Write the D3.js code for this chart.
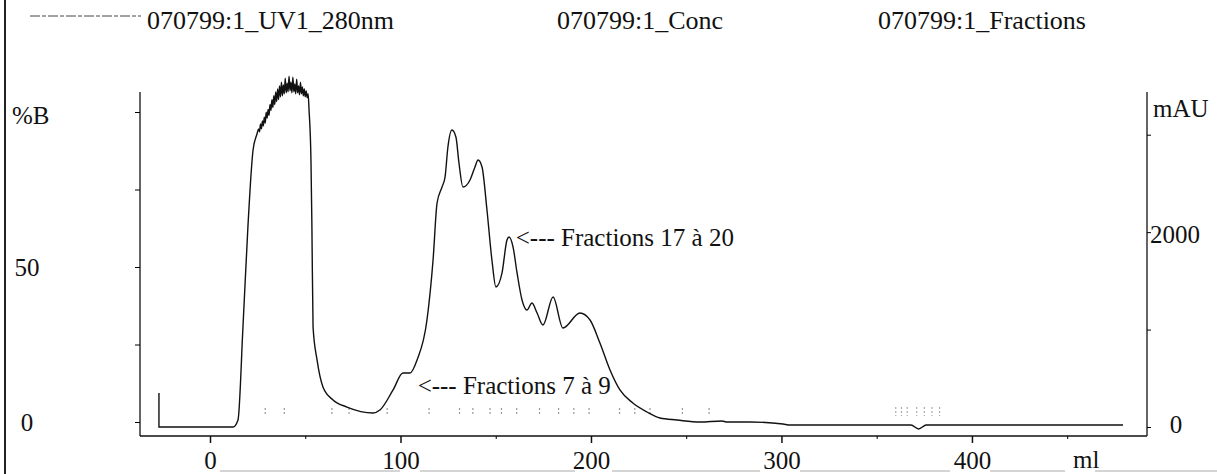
<!DOCTYPE html>
<html><head><meta charset="utf-8">
<script src="https://cdn.jsdelivr.net/npm/d3@7"></script>
<style>body{margin:0;background:#fff}svg{display:block}text{font-family:"Liberation Serif","Times New Roman",serif;fill:#111}</style>
</head><body>
<svg id="c" width="1217" height="474"></svg>
<script>
// ---- data ----
const seriesNames = ["070799:1_UV1_280nm", "070799:1_Conc", "070799:1_Fractions"];
const uvMl  = [-26.8,-26.8,12.1,14.7,17.3,19.9,22.6,24.7,
  25.5,26,26.5,27,27.5,28,28.5,29,29.5,30,30.5,31,31.5,32,32.5,33,33.5,34,34.5,35,35.5,36,36.5,37,37.5,38,38.5,39,39.5,40,40.5,41,41.5,42,42.5,43,43.5,44,44.5,45,45.5,46,46.5,47,47.5,48,48.5,49,49.5,50,50.5,51,51.5,
  52,53,53.5,54.1,56.2,59.3,64.6,71.9,85.6,89.2,96.1,101.3,105,108.7,113.9,117.1,119.2,121.8,123.4,124.9,127,129.1,130.7,132.8,136.5,139.1,140.7,142.8,145.4,148,150.1,153.3,155.9,157,159.1,161.2,163.8,166.4,169,171.7,174.8,180.1,185.3,194.2,199.5,204.7,210,215.2,222,229.4,236.2,245.1,257.2,268.8,271.4,283.5,300.8,304.5,360,368,372,376,380,479.3];
const uvMAU = [349,0,0,72,1026,2053,2843,3010,
  3060,3030,3110,3060,3140,3090,3180,3120,3230,3170,3260,3200,3310,3250,3360,3280,3400,3310,3440,3340,3470,3360,3500,3390,3540,3400,3510,3420,3580,3430,3530,3440,3600,3450,3540,3430,3590,3440,3520,3420,3570,3430,3500,3410,3540,3420,3490,3400,3470,3390,3450,3380,3420,
  3254,2740,2053,1026,688,411,277,205,144,174,380,554,554,688,1098,1714,2299,2463,2566,2874,3048,2977,2710,2463,2535,2669,2740,2669,2227,1714,1437,1581,1919,1950,1847,1581,1304,1201,1273,1170,1047,1334,1016,1170,1098,862,585,380,246,154,92,72,51,62,51,51,31,20,20,20,-20,20,20,20];
const fractionMl = [29,39,64,73,93,115,131,138,147,153,161,173,183,191,199,215,223,231,248,262];
const wasteMl = [360,363,366,371,375,379,383];
const xTicks = [0,100,200,300,400];
const xMinor = [50,150,250,350,450];
const xUnit = "ml";
const bTicks = [0,25,50,75,100];
const bLabels = ["0","50"];
const bLabelVals = [0,50];
const bUnit = "%B";
const uTicks = [0,1000,2000,3000];
const uLabels = ["0","2000"];
const uLabelVals = [0,2000];
const uUnit = "mAU";
const notes = ["<--- Fractions 17 à 20", "<--- Fractions 7 à 9"];
const noteMl = [160.5, 109];
const noteMAU = [1950, 430];

// ---- drawing ----
const svg = d3.select("#c");
svg.append("rect").attr("width",1217).attr("height",474).attr("fill","#fff");
const L = 140, R = 1147, T = 92, B = 436;
const x = d3.scaleLinear().domain([-36.75, 491.9]).range([L, R]);
const yB = d3.scaleLinear().domain([0,100]).range([422,112]);
const yU = d3.scaleLinear().domain([0,3500]).range([427,86]);
const fs = 25;

// scan frame line on left
svg.append("line").attr("x1",5).attr("x2",5).attr("y1",0).attr("y2",474).attr("stroke","#222").attr("stroke-width",2);
// faint artifacts along bottom
[[220,400],[420,575],[612,760],[800,950],[990,1065],[1095,1217]].forEach(s=>{
  svg.append("line").attr("x1",s[0]).attr("x2",s[1]).attr("y1",471).attr("y2",471).attr("stroke","#aaa").attr("stroke-width",1);
});

// legend
svg.append("line").attr("x1",30).attr("x2",141).attr("y1",16).attr("y2",16).attr("stroke","#444").attr("stroke-width",1).attr("stroke-dasharray","10,2,4,2");
const legX = [147, 557, 878];
seriesNames.forEach((s,i)=>svg.append("text").attr("x",legX[i]).attr("y",29).attr("font-size",26).text(s));

// axes frame
svg.append("line").attr("x1",L).attr("x2",L).attr("y1",T).attr("y2",B).attr("stroke","#111").attr("stroke-width",1.3);
svg.append("line").attr("x1",R).attr("x2",R).attr("y1",T).attr("y2",B).attr("stroke","#111").attr("stroke-width",1.3);
svg.append("line").attr("x1",L).attr("x2",R).attr("y1",B).attr("y2",B).attr("stroke","#111").attr("stroke-width",1.5);

// bottom axis
const gx = svg.append("g").attr("transform",`translate(0,${B})`)
  .call(d3.axisBottom(x).tickValues(xTicks).tickSize(7).tickSizeOuter(0).tickPadding(8));
gx.select(".domain").remove();
gx.selectAll("text").attr("font-size",fs).attr("font-family","Liberation Serif").attr("fill","#111");
gx.selectAll("line").attr("stroke","#111").attr("stroke-width",1.5);
const gxm = svg.append("g").attr("transform",`translate(0,${B})`)
  .call(d3.axisBottom(x).tickValues(xMinor).tickSize(3).tickFormat(""));
gxm.select(".domain").remove();
svg.append("text").attr("x",x(460)).attr("y",468).attr("text-anchor","middle").attr("font-size",fs).text(xUnit);

// left axis
const gl = svg.append("g").attr("transform",`translate(${L},0)`)
  .call(d3.axisLeft(yB).tickValues(bTicks).tickSize(5).tickFormat(""));
gl.select(".domain").remove();
bLabels.forEach((t,i)=>svg.append("text").attr("x",27).attr("y",yB(bLabelVals[i])+9).attr("text-anchor","middle").attr("font-size",fs).text(t));
svg.append("text").attr("x",12).attr("y",124).attr("font-size",fs).text(bUnit);

// right axis
const gr = svg.append("g").attr("transform",`translate(${R},0)`)
  .call(d3.axisRight(yU).tickValues(uTicks).tickSize(4).tickFormat(""));
gr.select(".domain").remove();
svg.append("text").attr("x",1150).attr("y",yU(uLabelVals[1])+11).attr("font-size",fs).text(uLabels[1]);
svg.append("text").attr("x",1176).attr("y",yU(uLabelVals[0])+6).attr("text-anchor","middle").attr("font-size",fs).text(uLabels[0]);
svg.append("text").attr("x",1153).attr("y",117).attr("font-size",fs).text(uUnit);

// fraction marks (faint)
fractionMl.forEach(m=>{
  svg.append("line").attr("x1",x(m)).attr("x2",x(m)).attr("y1",408).attr("y2",415).attr("stroke","#999").attr("stroke-width",1.2).attr("stroke-dasharray","2,2");
});
wasteMl.forEach(m=>{
  svg.append("line").attr("x1",x(m)).attr("x2",x(m)).attr("y1",407).attr("y2",416).attr("stroke","#aaa").attr("stroke-width",1.2).attr("stroke-dasharray","2,2");
});

// UV trace
const pts = uvMl.map((m,i)=>[m, uvMAU[i]]);
svg.append("path").datum(pts)
  .attr("d", d3.line().x(d=>x(d[0])).y(d=>yU(d[1])).curve(d3.curveMonotoneX))
  .attr("fill","none").attr("stroke","#111").attr("stroke-width",1.4);

// annotations
notes.forEach((t,i)=>svg.append("text").attr("x",x(noteMl[i])).attr("y",yU(noteMAU[i])+9).attr("font-size",fs).text(t));
</script>
</body></html>
